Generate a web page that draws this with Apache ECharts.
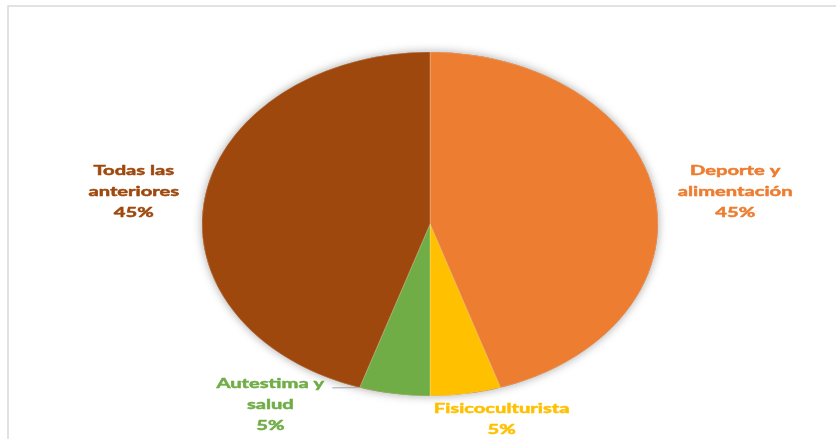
<!DOCTYPE html>
<html><head><meta charset="utf-8">
<script src="https://cdn.jsdelivr.net/npm/echarts@6/dist/echarts.min.js"></script>
<style>html,body{margin:0;padding:0;background:#fff}#c{width:836px;height:439px}</style>
</head><body><div id="c"></div>
<script>
const categories = ['Deporte y alimentación', 'Fisicoculturista', 'Autestima y salud', 'Todas las anteriores'];
const labelLines = [['Deporte y', 'alimentación'], ['Fisicoculturista'], ['Autestima y', 'salud'], ['Todas las', 'anteriores']];
const values = [45, 5, 5, 45];
const colors = ['#ED7D31', '#FFC000', '#70AD47', '#9E480E'];
// label block offsets from the slice's outer edge midpoint (layout only)
const labelOffsets = [[80, -6], [36, 25], [-124, 11], [-71, -6]];

const total = values.reduce((a, b) => a + b, 0);
const starts = [];
let acc = 0;
values.forEach(v => { starts.push(acc); acc += v; });

const chart = echarts.init(document.getElementById('c'), null, {renderer: 'canvas'});
const CX = 430, CY = 224, RX = 228, RY = 172;
const SX = RX / RY;
const font = 'bold 14px Lato';
const TSX = 1.44;

function ang(frac) { return -Math.PI / 2 + frac * 2 * Math.PI; }
function ellPt(a) { return [CX + RX * Math.cos(a), CY + RY * Math.sin(a)]; }

chart.setOption({
  animation: false,
  graphic: [{
    type: 'rect', shape: {x: 8, y: 6, width: 900, height: 500},
    style: {fill: 'none', stroke: '#d9d9d9', lineWidth: 1.5}, silent: true, z: -10
  }],
  series: [{
    type: 'custom',
    coordinateSystem: 'none',
    data: values.map((v, i) => ({name: categories[i], value: v})),
    renderItem: function (params, api) {
      const i = params.dataIndex;
      const v = api.value(0);
      const a0 = ang(starts[i] / total), a1 = ang((starts[i] + v) / total);
      const am = (a0 + a1) / 2;
      const children = [];
      if (i === 0) {
        children.push({
          type: 'circle', shape: {cx: CX, cy: CY, r: RY},
          scaleX: SX, originX: CX, originY: CY,
          style: {fill: '#9E480E', shadowBlur: 10, shadowColor: 'rgba(0,0,0,0.35)'}
        });
      }
      children.push({
        type: 'sector',
        shape: {cx: CX, cy: CY, r: RY, r0: 0, startAngle: a0, endAngle: a1, clockwise: true},
        scaleX: SX, originX: CX, originY: CY,
        style: {fill: colors[i], stroke: 'rgba(255,255,255,0.35)', lineWidth: 0.6, strokeNoScale: true}
      });
      const p = ellPt(am);
      const lx = p[0] + labelOffsets[i][0], ly = p[1] + labelOffsets[i][1];
      const pct = Math.round(v / total * 100) + '%';
      const lines = labelLines[i].concat([pct]);
      children.push({
        type: 'text', x: lx, y: ly, scaleX: TSX, originX: 0, originY: 0, z2: 10,
        style: {
          text: lines.join('\n'), font: font, fill: colors[i],
          stroke: colors[i], lineWidth: 0.5,
          align: 'center', verticalAlign: 'middle', lineHeight: 21
        }
      });
      if (i === 2) {
        const e = ellPt(a1);
        children.push({
          type: 'polyline',
          shape: {points: [[lx + 62, ly - 17], e]},
          style: {stroke: '#a6a6a6', lineWidth: 1, fill: null}
        });
      }
      return {type: 'group', children: children};
    }
  }]
});
</script></body></html>
